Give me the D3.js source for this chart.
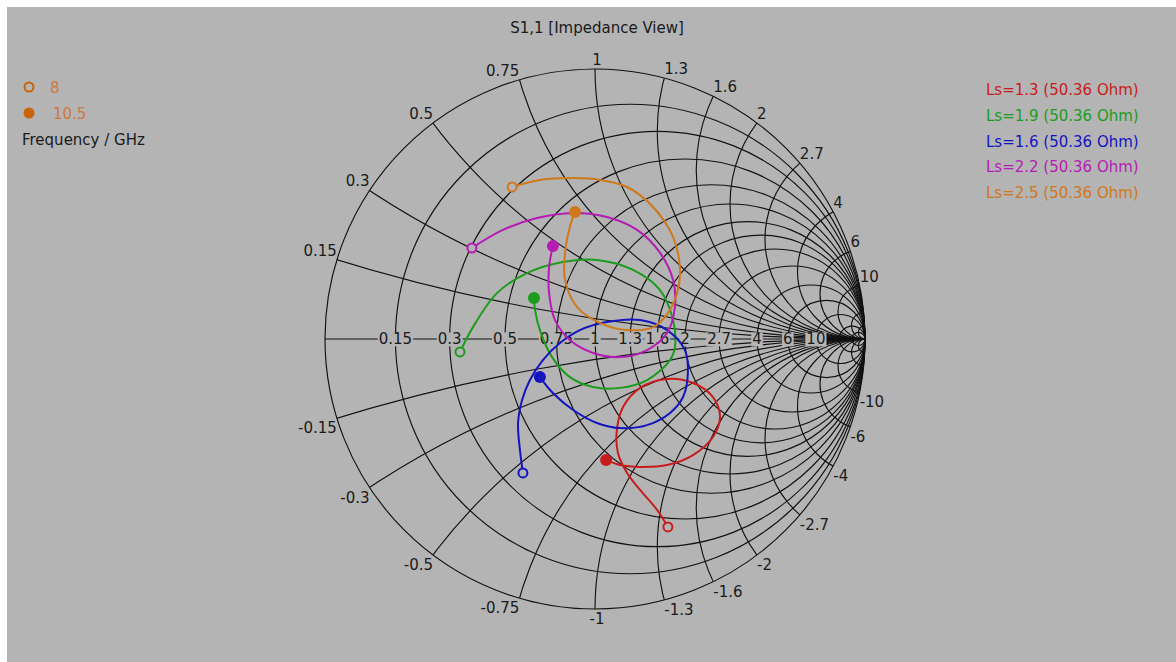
<!DOCTYPE html>
<html>
<head>
<meta charset="utf-8">
<style>
  body { margin: 0; background: #fff; }
  text { font-family: "DejaVu Sans", sans-serif; font-size: 15px; }
</style>
<script src="https://cdn.jsdelivr.net/npm/d3@7"></script>
</head>
<body>
<div id="chart"></div>
<script>
// grid values of the smith chart
var resistances = [0.15, 0.3, 0.5, 0.75, 1, 1.3, 1.6, 2, 2.7, 4, 6, 10];
var reactances = [0.15, 0.3, 0.5, 0.75, 1, 1.3, 1.6, 2, 2.7, 4, 6, 10];
var extraGrid = [20, 40];

// S11 traces, [re, im] from 8 GHz (open marker) to 10.5 GHz (filled marker)
var ls13 = [[0.270,-0.696],[0.230,-0.633],[0.167,-0.559],[0.119,-0.496],[0.085,-0.422],[0.081,-0.337],
  [0.104,-0.252],[0.167,-0.181],[0.267,-0.148],[0.363,-0.163],[0.437,-0.215],[0.463,-0.289],
  [0.437,-0.363],[0.363,-0.430],[0.267,-0.467],[0.167,-0.474],[0.093,-0.467],[0.041,-0.448]];
var ls19 = [[-0.500,-0.048],[-0.452,0.044],[-0.363,0.170],[-0.252,0.244],[-0.119,0.285],[0.007,0.293],
  [0.141,0.256],[0.241,0.181],[0.289,0.070],[0.296,-0.030],[0.278,-0.078],[0.193,-0.152],
  [0.093,-0.181],[-0.007,-0.178],[-0.093,-0.141],[-0.159,-0.067],[-0.204,0.033],[-0.222,0.107],[-0.226,0.152]];
var ls16 = [[-0.267,-0.496],[-0.278,-0.411],[-0.285,-0.311],[-0.270,-0.226],[-0.241,-0.152],[-0.193,-0.078],
  [-0.130,-0.015],[-0.056,0.033],[0.044,0.063],[0.167,0.070],[0.267,0.033],[0.333,-0.041],
  [0.344,-0.126],[0.326,-0.215],[0.278,-0.274],[0.193,-0.319],[0.093,-0.330],[0.007,-0.311],
  [-0.081,-0.263],[-0.156,-0.200],[-0.204,-0.141]];
var ls22 = [[-0.456,0.337],[-0.341,0.404],[-0.215,0.448],[-0.081,0.467],[0.044,0.452],[0.156,0.404],
  [0.241,0.319],[0.289,0.219],[0.296,0.119],[0.267,0.022],[0.193,-0.041],[0.093,-0.067],
  [-0.007,-0.052],[-0.093,-0.004],[-0.148,0.070],[-0.170,0.170],[-0.170,0.267],[-0.156,0.344]];
var ls25 = [[-0.307,0.563],[-0.204,0.589],[-0.081,0.596],[0.019,0.589],[0.119,0.563],[0.215,0.489],
  [0.289,0.378],[0.315,0.256],[0.304,0.170],[0.270,0.096],[0.215,0.044],[0.119,0.033],
  [0.019,0.059],[-0.067,0.119],[-0.111,0.219],[-0.111,0.319],[-0.093,0.415],[-0.074,0.470]];

var seriesNames = ["Ls=1.3 (50.36 Ohm)", "Ls=1.9 (50.36 Ohm)", "Ls=1.6 (50.36 Ohm)",
                   "Ls=2.2 (50.36 Ohm)", "Ls=2.5 (50.36 Ohm)"];
var seriesData = [ls13, ls19, ls16, ls22, ls25];
var seriesColors = ["#c81c1c", "#1c9c1c", "#1414c0", "#b41cb4", "#d0781c"];
var freqLabels = ["8", "10.5"];

const width = 1176, height = 662;
const cx = 595, cy = 339, R = 270;
const bg = "#b4b4b4";

var svg = d3.select("#chart").append("svg")
    .attr("width", width).attr("height", height);

svg.append("rect")
    .attr("x", 7).attr("y", 7)
    .attr("width", width - 7).attr("height", height - 7)
    .attr("fill", bg);

var x = d3.scaleLinear().domain([-1, 1]).range([cx - R, cx + R]);
var y = d3.scaleLinear().domain([-1, 1]).range([cy + R, cy - R]);
var k = x(1) - x(0);  // pixels per unit of gamma

svg.append("text")
    .attr("x", cx + 2).attr("y", 33)
    .attr("text-anchor", "middle")
    .attr("fill", "#1a1a1a")
    .text("S1,1 [Impedance View]");

svg.append("clipPath").attr("id", "unit")
  .append("circle")
    .attr("cx", x(0)).attr("cy", y(0)).attr("r", k);

var grid = svg.append("g")
    .attr("fill", "none")
    .attr("stroke", "#111")
    .attr("stroke-width", 1.15);

// outer circle (r = 0)
grid.append("circle")
    .attr("cx", x(0)).attr("cy", y(0)).attr("r", k);

// constant resistance circles
grid.selectAll("circle.r")
  .data(resistances.concat(extraGrid))
  .join("circle")
    .attr("class", "r")
    .attr("cx", d => x(d / (d + 1)))
    .attr("cy", y(0))
    .attr("r", d => k / (d + 1));

// constant reactance arcs, clipped to the unit circle
var allX = reactances.concat(extraGrid);
allX = allX.concat(allX.map(d => -d));
grid.append("g").attr("clip-path", "url(#unit)")
  .selectAll("circle")
  .data(allX)
  .join("circle")
    .attr("cx", x(1))
    .attr("cy", d => y(1 / d))
    .attr("r", d => k / Math.abs(d));

// real axis
grid.append("line")
    .attr("x1", x(-1)).attr("x2", x(1))
    .attr("y1", y(0)).attr("y2", y(0));

// resistance labels on the real axis
var rLab = svg.append("g").selectAll("g")
  .data(resistances)
  .join("g")
    .attr("transform", d => "translate(" + x((d - 1) / (d + 1)) + "," + y(0) + ")");
rLab.append("text")
    .attr("text-anchor", "middle")
    .attr("dy", "0.36em")
    .attr("fill", "#1a1a1a")
    .text(d => d);
rLab.each(function() {
  var g = d3.select(this);
  var b = g.select("text").node().getBBox();
  g.insert("rect", "text")
    .attr("x", b.x - 1).attr("y", b.y + 2)
    .attr("width", b.width + 2).attr("height", b.height - 4)
    .attr("fill", bg);
});

// reactance labels around the rim
function rim(xv) {
  var d = 1 + xv * xv;
  return [(xv * xv - 1) / d, 2 * xv / d];
}
svg.append("g").selectAll("text")
  .data(allX.filter(d => Math.abs(d) <= 10))
  .join("text")
    .attr("x", d => x(rim(d)[0]) + (Math.abs(rim(d)[0]) < 0.05 ? 2 : 0))
    .attr("y", d => d > 0 ? y(rim(d)[1]) - 4 : y(rim(d)[1]) + 3)
    .attr("dy", d => d > 0 ? 0 : "0.8em")
    .attr("text-anchor", d => {
      var g = rim(d)[0];
      return Math.abs(g) < 0.05 ? "middle" : (g < 0 ? "end" : "start");
    })
    .attr("fill", "#1a1a1a")
    .text(d => d);

// traces
var line = d3.line()
    .x(d => x(d[0]))
    .y(d => y(d[1]))
    .curve(d3.curveCatmullRom.alpha(0.5));

var traces = svg.append("g").selectAll("g")
  .data(seriesData)
  .join("g");
traces.append("path")
    .attr("d", d => line(d))
    .attr("fill", "none")
    .attr("stroke", (d, i) => seriesColors[i])
    .attr("stroke-width", 2);
traces.append("circle")
    .attr("cx", d => x(d[0][0]))
    .attr("cy", d => y(d[0][1]))
    .attr("r", 4.5)
    .attr("fill", bg)
    .attr("stroke", (d, i) => seriesColors[i])
    .attr("stroke-width", 2);
traces.append("circle")
    .attr("cx", d => x(d[d.length - 1][0]))
    .attr("cy", d => y(d[d.length - 1][1]))
    .attr("r", 6)
    .attr("fill", (d, i) => seriesColors[i]);

// series legend, right
svg.append("g").selectAll("text")
  .data(seriesNames)
  .join("text")
    .attr("x", 986)
    .attr("y", (d, i) => 95 + i * 25.8)
    .attr("fill", (d, i) => seriesColors[i])
    .text(d => d);

// frequency legend, left
var fColor = "#c8640a";
svg.append("circle")
    .attr("cx", 29).attr("cy", 87).attr("r", 4.5)
    .attr("fill", "none").attr("stroke", fColor).attr("stroke-width", 2);
svg.append("circle")
    .attr("cx", 29).attr("cy", 113).attr("r", 5.5)
    .attr("fill", fColor);
svg.append("g").selectAll("text")
  .data(freqLabels)
  .join("text")
    .attr("x", (d, i) => 50 + i * 3)
    .attr("y", (d, i) => 93 + i * 26)
    .attr("fill", "#d0783c")
    .text(d => d);
svg.append("text")
    .attr("x", 22).attr("y", 145)
    .attr("fill", "#1a1a1a")
    .text("Frequency / GHz");
</script>
</body>
</html>
